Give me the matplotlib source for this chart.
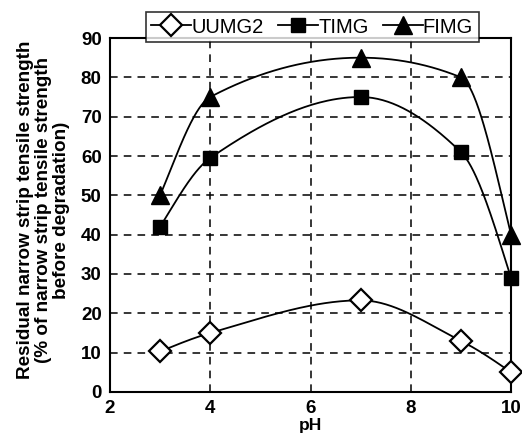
import numpy as np
import matplotlib
matplotlib.use("Agg")
import matplotlib.pyplot as plt

plt.rcParams['font.family'] = ['Liberation Sans', 'DejaVu Sans']

ph = [3, 4, 7, 9, 10]
uumg2 = [10.3, 15.0, 23.3, 13.0, 5.0]
timg = [42.0, 59.5, 75.0, 61.0, 29.0]
fimg = [50.0, 75.0, 85.0, 80.0, 40.0]
labels = ["UUMG2", "TIMG", "FIMG"]
xticks = [2, 4, 6, 8, 10]
yticks = [0, 10, 20, 30, 40, 50, 60, 70, 80, 90]


def pchip(x, y, n=60):
    # monotone piecewise cubic Hermite (Fritsch-Carlson) curve through points
    x = np.asarray(x, float)
    y = np.asarray(y, float)
    h = np.diff(x)
    d = np.diff(y) / h
    m = np.zeros_like(y)
    for k in range(1, len(x) - 1):
        if d[k - 1] * d[k] <= 0:
            m[k] = 0.0
        else:
            w1 = 2 * h[k] + h[k - 1]
            w2 = h[k] + 2 * h[k - 1]
            m[k] = (w1 + w2) / (w1 / d[k - 1] + w2 / d[k])

    def end(h0, h1, d0, d1):
        s = ((2 * h0 + h1) * d0 - h0 * d1) / (h0 + h1)
        if np.sign(s) != np.sign(d0):
            s = 0.0
        elif np.sign(d0) != np.sign(d1) and abs(s) > abs(3 * d0):
            s = 3 * d0
        return s
    m[0] = end(h[0], h[1], d[0], d[1])
    m[-1] = end(h[-1], h[-2], d[-1], d[-2])
    xs, ys = [], []
    for i in range(len(x) - 1):
        t = np.linspace(0, 1, n)
        h00 = 2 * t**3 - 3 * t**2 + 1
        h10 = t**3 - 2 * t**2 + t
        h01 = -2 * t**3 + 3 * t**2
        h11 = t**3 - t**2
        xs.append(x[i] + t * h[i])
        ys.append(h00 * y[i] + h10 * h[i] * m[i] + h01 * y[i + 1] + h11 * h[i] * m[i + 1])
    return np.concatenate(xs), np.concatenate(ys)


fig = plt.figure(figsize=(5.22, 4.34), dpi=100)
ax = fig.add_axes([0.2107, 0.0968, 0.7683, 0.8156])

styles = [
    dict(marker='D', mfc='white', mec='black', ms=11, mew=1.6),
    dict(marker='s', mfc='black', mec='black', ms=10, mew=1),
    dict(marker='^', mfc='black', mec='black', ms=13, mew=1),
]
for ys, lab, st in zip([uumg2, timg, fimg], labels, styles):
    sx, sy = pchip(ph, ys)
    ax.plot(sx, sy, color='black', lw=1.3, zorder=3)
    ax.plot(ph, ys, linestyle='none', zorder=4, clip_on=False, **st)
    ax.plot([], [], color='black', lw=1.3, label=lab, **st)

ax.set_xlim(2, 10)
ax.set_ylim(0, 90)
ax.set_xticks(xticks)
ax.set_yticks(yticks)
ax.tick_params(length=0, labelsize=13.5)
ax.tick_params(axis='x', pad=6)
ax.tick_params(axis='y', pad=6)
for t in ax.get_xticklabels() + ax.get_yticklabels():
    t.set_fontweight('bold')
ax.grid(True, color='black', linestyle=(0, (5, 4)), lw=1.1)
for s in ax.spines.values():
    s.set_linewidth(1.5)

ax.set_xlabel('pH', fontsize=12.5, fontweight='bold', labelpad=0.5)
fig.text(0.083, 0.516,
         'Residual narrow strip tensile strength\n(% of narrow strip tensile strength\nbefore degradation)',
         fontsize=13.6, fontweight='bold', rotation=90, ha='center', va='center',
         linespacing=1.1, multialignment='center')

leg = ax.legend(loc='center', bbox_to_anchor=(0.504, 1.031), ncol=3, fontsize=14.5,
                frameon=True, fancybox=False, edgecolor='black', handlelength=2.0,
                handletextpad=0.0, columnspacing=0.7, borderpad=0.28, borderaxespad=0)
leg.get_frame().set_linewidth(1.2)
leg.set_zorder(10)

fig.savefig('out.png', dpi=100)
